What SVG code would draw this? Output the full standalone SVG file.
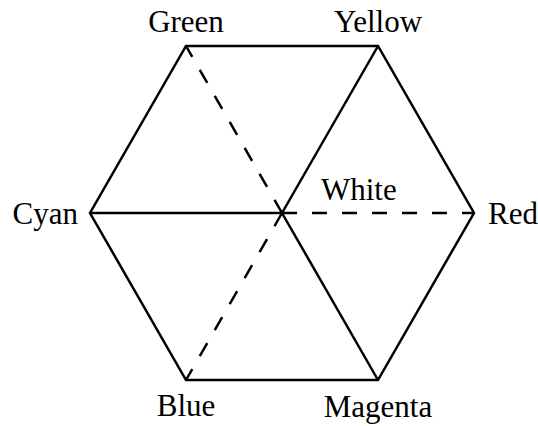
<svg xmlns="http://www.w3.org/2000/svg" width="538" height="426" viewBox="0 0 538 426">
<style>
.e{stroke:#000;stroke-width:2.5;fill:none;stroke-linejoin:miter}
.d{stroke:#000;stroke-width:2.5;fill:none;stroke-dasharray:15 15}
text{font-family:"Liberation Serif","Times New Roman",serif;font-size:31px;fill:#000}
</style>
<rect width="538" height="426" fill="#fff"/>
<g id="connectors">
<polygon class="e" points="186,46 378,46 474,213 378,380 186,380 90,213"/>
<line class="e" x1="90" y1="213" x2="282" y2="213"/>
<line class="e" x1="378" y1="46" x2="282" y2="213"/>
<line class="e" x1="282" y1="213" x2="378" y2="380"/>
<line class="d" x1="282" y1="213" x2="186" y2="46"/>
<line class="d" x1="282" y1="213" x2="474" y2="213"/>
<line class="d" x1="282" y1="213" x2="186" y2="380"/>
</g>
<g id="green"><text x="186" y="32" text-anchor="middle">Green</text></g>
<g id="yellow"><text x="378" y="32" text-anchor="middle">Yellow</text></g>
<g id="cyan"><text x="78" y="224" text-anchor="end">Cyan</text></g>
<g id="red"><text x="488" y="224">Red</text></g>
<g id="white"><text x="321" y="200">White</text></g>
<g id="blue"><text x="186" y="416" text-anchor="middle">Blue</text></g>
<g id="magenta"><text x="378" y="417" text-anchor="middle">Magenta</text></g>
</svg>
